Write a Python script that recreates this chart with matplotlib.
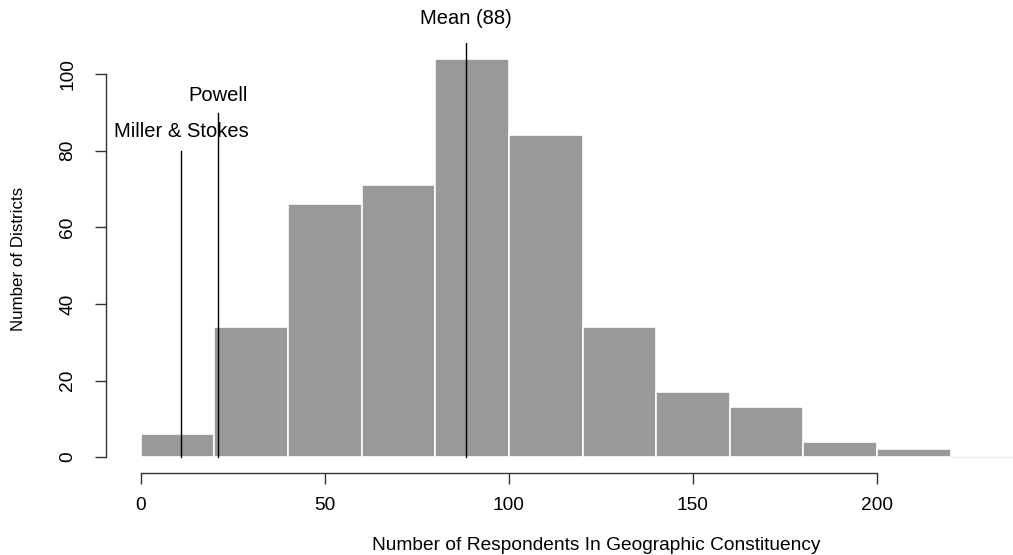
import matplotlib.pyplot as plt
import numpy as np

plt.rcParams['font.family'] = ['Liberation Sans', 'DejaVu Sans']

# histogram bins (width 20) and counts
bin_edges = [0, 20, 40, 60, 80, 100, 120, 140, 160, 180, 200, 220, 240]
counts = [6, 34, 66, 71, 104, 84, 34, 17, 13, 4, 2, 0]

# reference lines: label, x position, line top, label y
ref_names = ['Miller & Stokes', 'Powell', 'Mean (88)']
ref_x = [11, 21, 88.4]
ref_top = [80, 90, 120]
ref_label_y = [85, 94.5, 114.5]

x_ticks = [0, 50, 100, 150, 200]
y_ticks = [0, 20, 40, 60, 80, 100]

fig = plt.figure(figsize=(10.13, 5.55), dpi=100)
W, H = 1013, 555
ax = fig.add_axes([105.5 / W, 82 / H, 954 / W, 430 / H])

lefts = np.array(bin_edges[:-1])
widths = np.diff(bin_edges)
ax.bar(lefts, counts, width=widths, align='edge', color='#999999',
       edgecolor='white', linewidth=1.2)
# zero-height last bin shows as a faint line
ax.plot([bin_edges[-2], bin_edges[-1]], [0, 0], color='#eeeeee', lw=1)

for name, x, top, ly in zip(ref_names, ref_x, ref_top, ref_label_y):
    ax.plot([x, x], [0, top], color='black', lw=1)
    ax.text(x, ly, name, ha='center', va='center', fontsize=14.5, clip_on=False)

ax.set_xlim(-9.6, 249.6)
ax.set_ylim(-4.16, 108.16)

for s in ['top', 'right']:
    ax.spines[s].set_visible(False)
ax.spines['left'].set_bounds(0, 100)
ax.spines['bottom'].set_bounds(0, 200)
for s in ['left', 'bottom']:
    ax.spines[s].set_color('#333333')
    ax.spines[s].set_linewidth(1)

ax.set_xticks(x_ticks)
ax.set_yticks(y_ticks)
ax.set_xticklabels([str(t) for t in x_ticks], fontsize=13.8)
ax.set_yticklabels([str(t) for t in y_ticks], fontsize=13.8, rotation=90, va='center')
ax.tick_params(axis='both', length=8, width=1, color='#333333')
ax.tick_params(axis='x', pad=9)
ax.tick_params(axis='y', pad=13)

fig.text(596 / W, 1 - 545 / H, 'Number of Respondents In Geographic Constituency',
         ha='center', va='center', fontsize=13.8)
fig.text(19 / W, 1 - 258.5 / H, 'Number of Districts', ha='center', va='center',
         rotation=90, fontsize=12.2)

fig.savefig('out.png', dpi=100)
